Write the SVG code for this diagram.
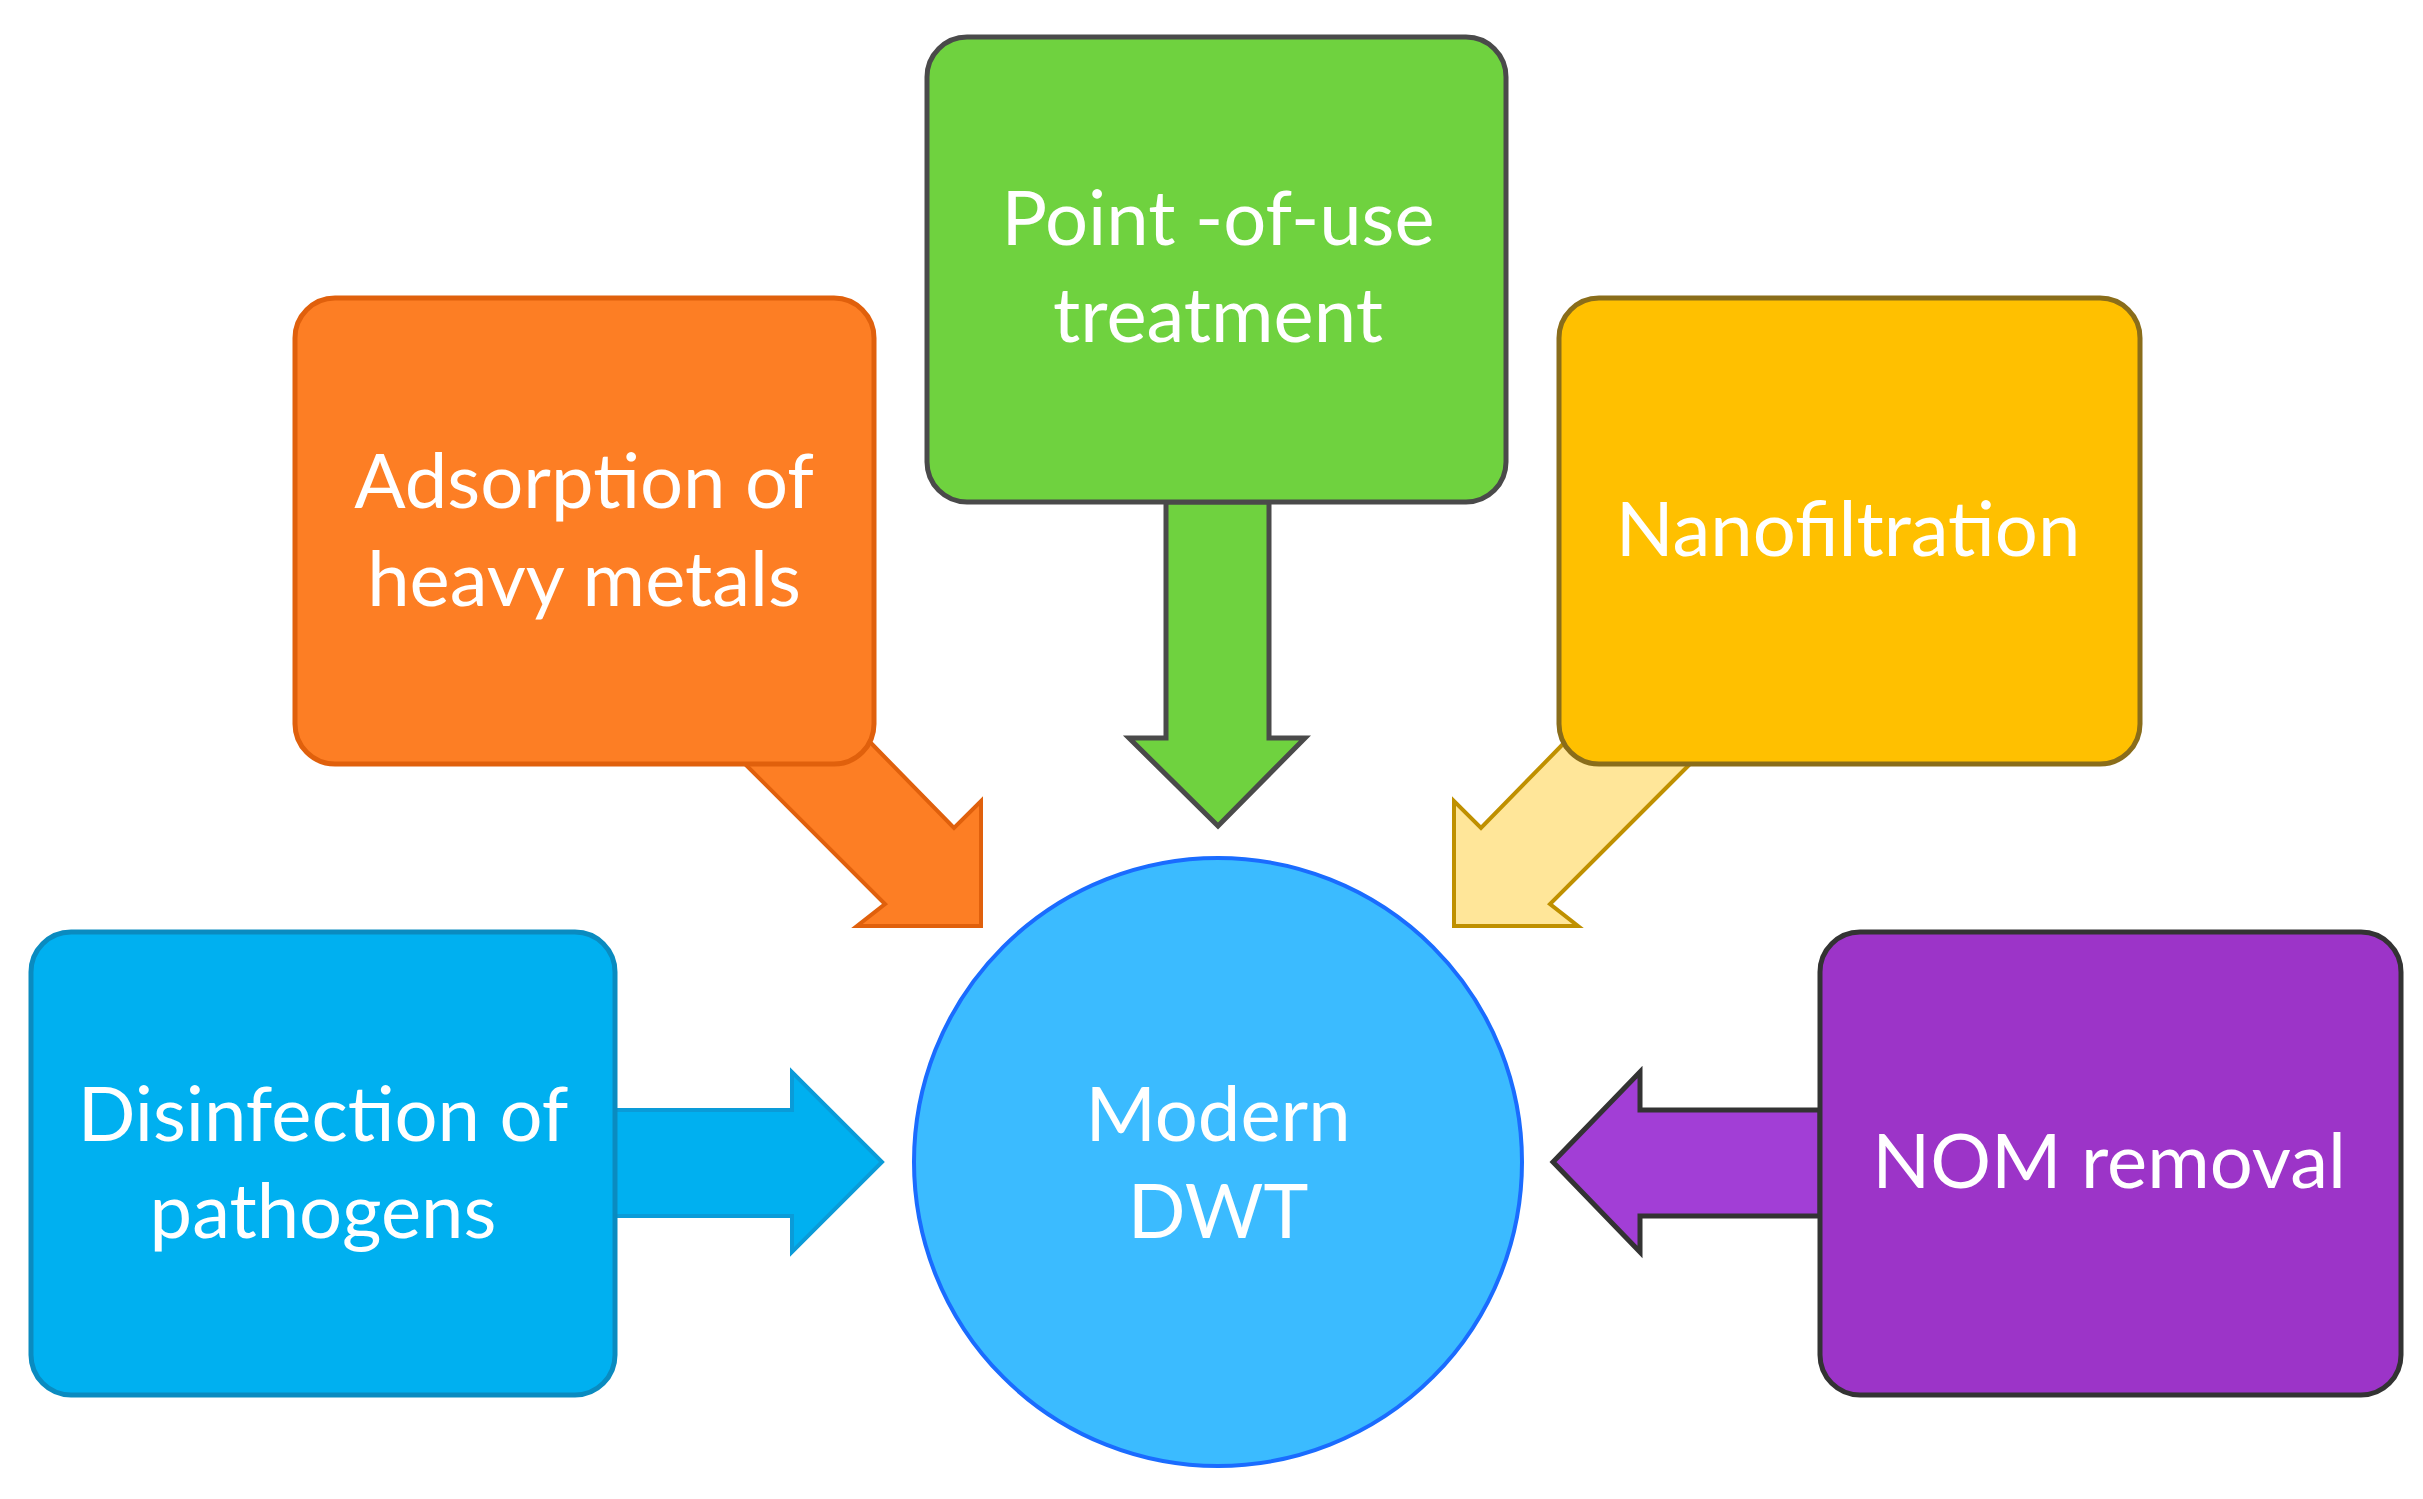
<svg xmlns="http://www.w3.org/2000/svg" width="2423" height="1499" viewBox="0 0 2423 1499">
<style>
.t{font-family:Lato,"Open Sans",sans-serif;font-size:76px;fill:#fff;text-anchor:middle}
.b{stroke-width:5}
</style>
<rect width="2423" height="1499" fill="#fff"/>
<g id="connectors">
<polygon points="745,764 885,904 857,926 981,926 981,801 954,828 870,742" fill="#FD7E24" stroke="#E0600C" stroke-width="4"/>
<polygon points="1166,502 1269,502 1269,738 1305,738 1218,826 1129,738 1166,738" fill="#6FD23F" stroke="#4A4A4A" stroke-width="5"/>
<polygon points="1690,764 1550,904 1578,926 1454,926 1454,801 1481,828 1565,742" fill="#FFE699" stroke="#BF9000" stroke-width="4"/>
<polygon points="615,1110 792,1110 792,1072 882,1162 792,1252 792,1216 615,1216" fill="#00B0F0" stroke="#0A9BD8" stroke-width="4"/>
<polygon points="1820,1110 1640,1110 1640,1072 1553,1162 1640,1252 1640,1216 1820,1216" fill="#A23ED6" stroke="#333" stroke-width="5"/>
</g>
<g id="orange"><rect x="295" y="298" width="579" height="466" rx="40" fill="#FD7E24" stroke="#E0600C" class="b"/>
<text class="t" x="584" y="508">Adsorption of</text><text class="t" x="584" y="606">heavy metals</text></g>
<g id="green"><rect x="927" y="37" width="579" height="465" rx="40" fill="#6FD23F" stroke="#4A4A4A" class="b"/>
<text class="t" x="1218" y="245">Point -of-use</text><text class="t" x="1218" y="342">treatment</text></g>
<g id="yellow"><rect x="1559" y="298" width="581" height="466" rx="40" fill="#FFC000" stroke="#8A6D1A" class="b"/>
<text class="t" x="1848" y="556">Nanofiltration</text></g>
<g id="blue"><rect x="31" y="932" width="584" height="463" rx="40" fill="#00B0F0" stroke="#0A8BC0" class="b"/>
<text class="t" x="323" y="1141">Disinfection of</text><text class="t" x="323" y="1238">pathogens</text></g>
<g id="purple"><rect x="1820" y="932" width="581" height="463" rx="40" fill="#9C34C8" stroke="#333" class="b"/>
<text class="t" x="2109" y="1188">NOM removal</text></g>
<g id="center"><circle cx="1218" cy="1162" r="304" fill="#3BBBFF" stroke="#1A6CFF" stroke-width="4"/>
<text class="t" x="1218" y="1141">Modern</text><text class="t" x="1218" y="1238">DWT</text></g>
</svg>
